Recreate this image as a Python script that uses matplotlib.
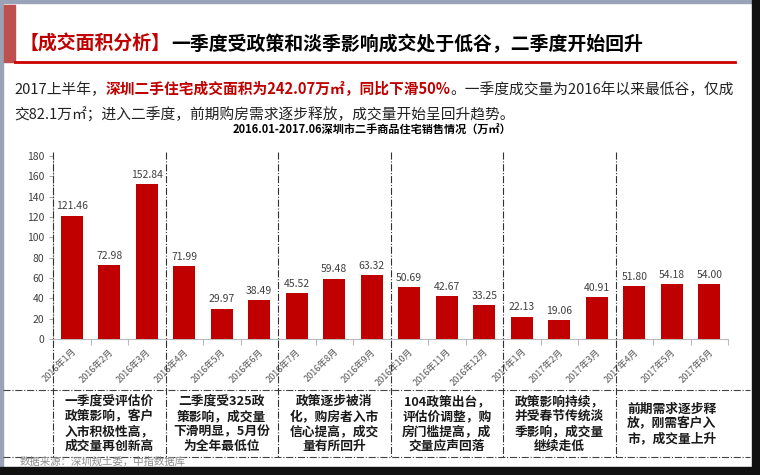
import matplotlib
matplotlib.use("Agg")
import matplotlib.pyplot as plt
from matplotlib.transforms import blended_transform_factory

plt.rcParams['font.family'] = ['Noto Sans CJK SC', 'DejaVu Sans']

# 数据
months = ['2016年1月', '2016年2月', '2016年3月', '2016年4月', '2016年5月', '2016年6月',
          '2016年7月', '2016年8月', '2016年9月', '2016年10月', '2016年11月', '2016年12月',
          '2017年1月', '2017年2月', '2017年3月', '2017年4月', '2017年5月', '2017年6月']
area = [121.46, 72.98, 152.84, 71.99, 29.97, 38.49, 45.52, 59.48, 63.32,
        50.69, 42.67, 33.25, 22.13, 19.06, 40.91, 51.80, 54.18, 54.00]
yticks = [0, 20, 40, 60, 80, 100, 120, 140, 160, 180]
notes = ['一季度受评估价\n政策影响，客户\n入市积极性高，\n成交量再创新高',
         '二季度受325政\n策影响，成交量\n下滑明显，5月份\n为全年最低位',
         '政策逐步被消\n化，购房者入市\n信心提高，成交\n量有所回升',
         '104政策出台，\n评估价调整，购\n房门槛提高，成\n交量应声回落',
         '政策影响持续，\n并受春节传统淡\n季影响，成交量\n继续走低',
         '前期需求逐步释\n放，刚需客户入\n市，成交量上升']

title_red = '【成交面积分析】'
title_black = '一季度受政策和淡季影响成交处于低谷，二季度开始回升'
line1 = ['2017上半年，', '深圳二手住宅成交面积为242.07万㎡，同比下滑50%', '。一季度成交量为2016年以来最低谷，仅成']
line2 = '交82.1万㎡；进入二季度，前期购房需求逐步释放，成交量开始呈回升趋势。'
chart_title = '2016.01-2017.06深圳市二手商品住宅销售情况（万㎡）'
source = '数据来源：深圳规土委，中指数据库'

red = '#c00000'
W, H = 760, 475

fig = plt.figure(figsize=(7.6, 4.75), dpi=100)

# 背景画布，用像素坐标
bg = fig.add_axes([0, 0, 1, 1])
bg.set_xlim(0, W)
bg.set_ylim(H, 0)
bg.axis('off')

# 边框
bg.add_patch(plt.Rectangle((0, 0), 3, H, color='#9aa3b5'))
bg.add_patch(plt.Rectangle((0, 0), W, 3, color='#9aa3b5'))
bg.add_patch(plt.Rectangle((752, 0), 8, H, color='#111111'))
bg.add_patch(plt.Rectangle((0, 467), W, 8, color='#111111'))
bg.add_patch(plt.Rectangle((4, 5), 11, 57, color='#c0504d'))
bg.plot([15, 735], [62, 62], color='#cc0000', lw=2)

# 标题
t = bg.text(20, 54, title_red, color=red, fontsize=13.6, fontweight='bold', va='bottom')
bg.annotate(title_black, xy=(1, 0), xycoords=t, va='bottom', ha='left',
            color='black', fontsize=13.6, fontweight='bold')

# 说明文字
t = bg.text(14, 97, line1[0], color='#222222', fontsize=10.6, va='bottom')
t = bg.annotate(line1[1], xy=(1, 0), xycoords=t, va='bottom', ha='left',
                color=red, fontsize=10.6, fontweight='bold')
bg.annotate(line1[2], xy=(1, 0), xycoords=t, va='bottom', ha='left',
            color='#222222', fontsize=10.6)
bg.text(14, 123, line2, color='#222222', fontsize=10.6, va='bottom')

bg.text(372, 130, chart_title, fontsize=8, fontweight='bold', ha='center', va='center')
bg.text(20, 462, source, fontsize=7.5, color='#8c8c8c', va='center')

# 表格横线
bg.plot([3, 750], [390, 390], color='#444444', lw=0.8, ls='-.')
bg.plot([3, 750], [457, 457], color='#444444', lw=0.8, ls='-.')

# 柱状图
ax = fig.add_axes([53 / W, 1 - 339 / H, 675 / W, 183 / H])
ax.patch.set_alpha(0)
x = list(range(len(months)))
ax.bar(x, area, width=0.58, color=red, zorder=3)
for xi, v in zip(x, area):
    ax.text(xi, v + 4, '%.2f' % v, ha='center', va='bottom', fontsize=7.5, color='#404040')

ax.set_xlim(-0.5, len(months) - 0.5)
ax.set_ylim(0, 180)
ax.set_yticks(yticks)
ax.tick_params(axis='y', labelsize=7.5, labelcolor='#404040', color='#999999', length=3, width=0.6)
ax.set_xticks([i + 0.5 for i in range(-1, len(months))])
ax.set_xticklabels([])
ax.tick_params(axis='x', color='#bbbbbb', length=4, width=0.8)
for xi, m in zip(x, months):
    ax.annotate(m, xy=(xi, 0), xytext=(2, -8), textcoords='offset points',
                rotation=45, ha='right', va='center', rotation_mode='anchor',
                fontsize=6.6, color='#595959', annotation_clip=False)
for s in ['top', 'right']:
    ax.spines[s].set_visible(False)
ax.spines['bottom'].set_color('#bbbbbb')
ax.spines['left'].set_color('#bbbbbb')

# 分组虚线和说明
tr = blended_transform_factory(ax.transData, bg.transData)
for g in range(6):
    ax.plot([g * 3 - 0.5] * 2, [152, 457], transform=tr, color='#333333',
            lw=0.8, ls='-.', clip_on=False, zorder=4)
    ax.text(g * 3 + 1, 424, notes[g], transform=tr, ha='center', va='center',
            fontsize=9.2, fontweight='bold', color='#1a1a1a', linespacing=1.2)

fig.savefig('out.png', dpi=100)
